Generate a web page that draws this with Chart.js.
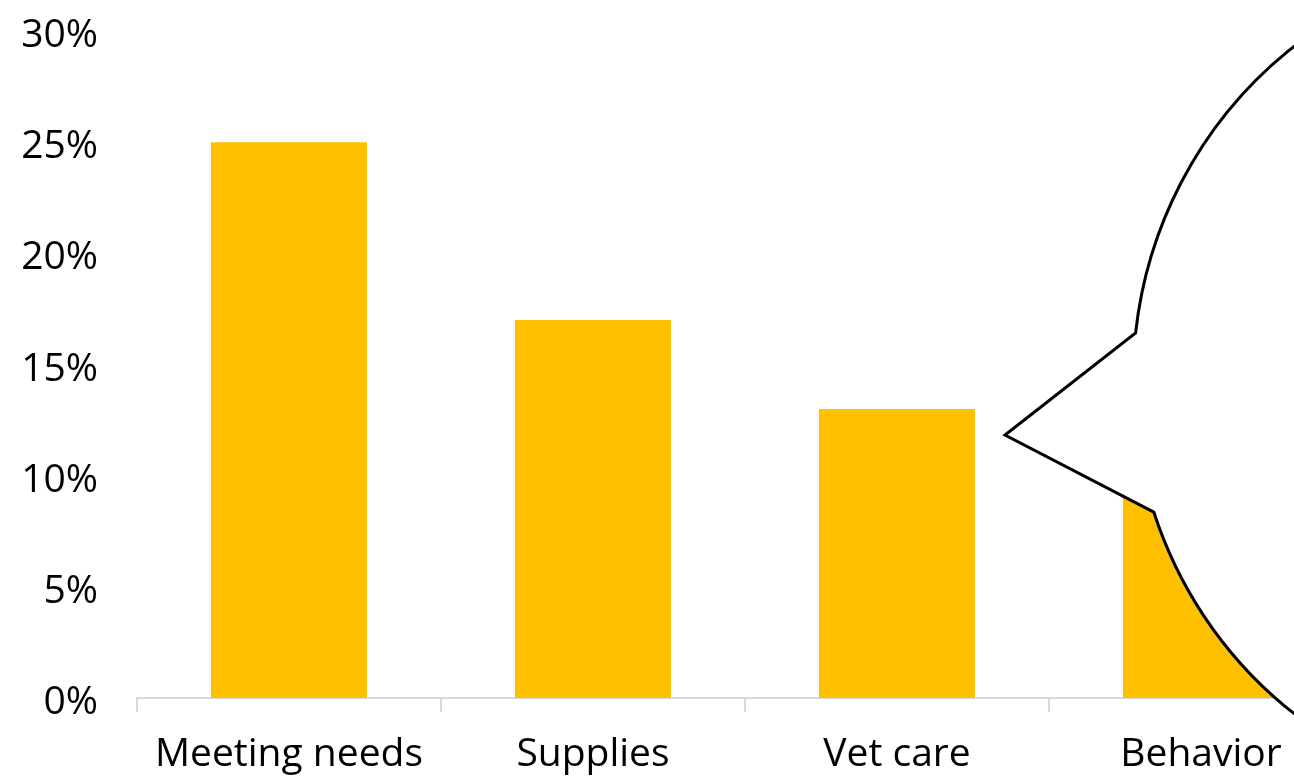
<!DOCTYPE html>
<html>
<head>
<meta charset="utf-8">
<title>Spending categories</title>
<script src="https://cdn.jsdelivr.net/npm/chart.js@4/dist/chart.umd.min.js"></script>
<style>
  html, body { margin: 0; padding: 0; background: #fff; overflow: hidden; }
  #wrap { position: relative; width: 1360px; height: 779px; }
</style>
</head>
<body>
<div id="wrap"><canvas id="chart"></canvas></div>
<script>
const categories = ["Meeting needs", "Supplies", "Vet care", "Behavior"];
const shares = [25, 17, 13, 9];
const yTicks = [0, 5, 10, 15, 20, 25, 30];

const barColor = "#FFC000";
const axisColor = "#D9D9D9";
const fontFamily = "'Open Sans', 'Liberation Sans', sans-serif";

// speech bubble laid over the right edge, in canvas pixels
const bubble = {
  cx: 1543,
  cy: 380,
  rx: 410,
  ry: 420,
  tipX: 1005,
  tipY: 435,
  upperJoin: { x: 1137, y: 333 },
  lowerJoin: { x: 1157, y: 511 },
};

const bubblePlugin = {
  id: "bubble",
  afterDraw(chart) {
    const ctx = chart.ctx;
    const b = bubble;
    const startAngle = Math.atan2((b.upperJoin.y - b.cy) / b.ry, (b.upperJoin.x - b.cx) / b.rx);
    const endAngle = Math.atan2((b.lowerJoin.y - b.cy) / b.ry, (b.lowerJoin.x - b.cx) / b.rx);
    ctx.save();
    ctx.beginPath();
    ctx.ellipse(b.cx, b.cy, b.rx, b.ry, 0, startAngle, endAngle, false);
    ctx.lineTo(b.tipX, b.tipY);
    ctx.closePath();
    ctx.fillStyle = "#fff";
    ctx.fill();
    ctx.lineWidth = 3;
    ctx.lineJoin = "miter";
    ctx.strokeStyle = "#000";
    ctx.stroke();
    ctx.restore();
  },
};

const ctx = document.getElementById("chart").getContext("2d");

new Chart(ctx, {
  type: "bar",
  data: {
    labels: categories,
    datasets: [
      {
        data: shares,
        backgroundColor: barColor,
        borderWidth: 0,
        barPercentage: 0.513,
        categoryPercentage: 1,
      },
    ],
  },
  options: {
    responsive: true,
    maintainAspectRatio: false,
    animation: false,
    events: [],
    layout: {
      padding: { top: 31, right: 7, bottom: 0, left: 0 },
    },
    plugins: {
      legend: { display: false },
      tooltip: { enabled: false },
    },
    scales: {
      x: {
        grid: {
          display: true,
          drawOnChartArea: false,
          drawTicks: true,
          tickLength: 14,
          color: axisColor,
          lineWidth: 2,
        },
        border: { display: true, color: axisColor, width: 2 },
        ticks: {
          color: "#000",
          padding: 19,
          maxRotation: 0,
          font: { family: fontFamily, size: 39 },
        },
        afterFit(scale) {
          scale.height = 81;
          scale.paddingLeft = 0;
          scale.paddingRight = 0;
        },
      },
      y: {
        min: 0,
        max: 30,
        afterBuildTicks(scale) {
          scale.ticks = yTicks.map((v) => ({ value: v }));
        },
        grid: { display: false, drawTicks: false },
        border: { display: false },
        ticks: {
          color: "#000",
          padding: 39,
          labelOffset: 5,
          font: { family: fontFamily, size: 39 },
          callback: (v) => v + "%",
        },
        afterFit(scale) {
          scale.width = 137;
          scale.paddingTop = 0;
          scale.paddingBottom = 0;
        },
      },
    },
  },
  plugins: [bubblePlugin],
});
</script>
</body>
</html>
